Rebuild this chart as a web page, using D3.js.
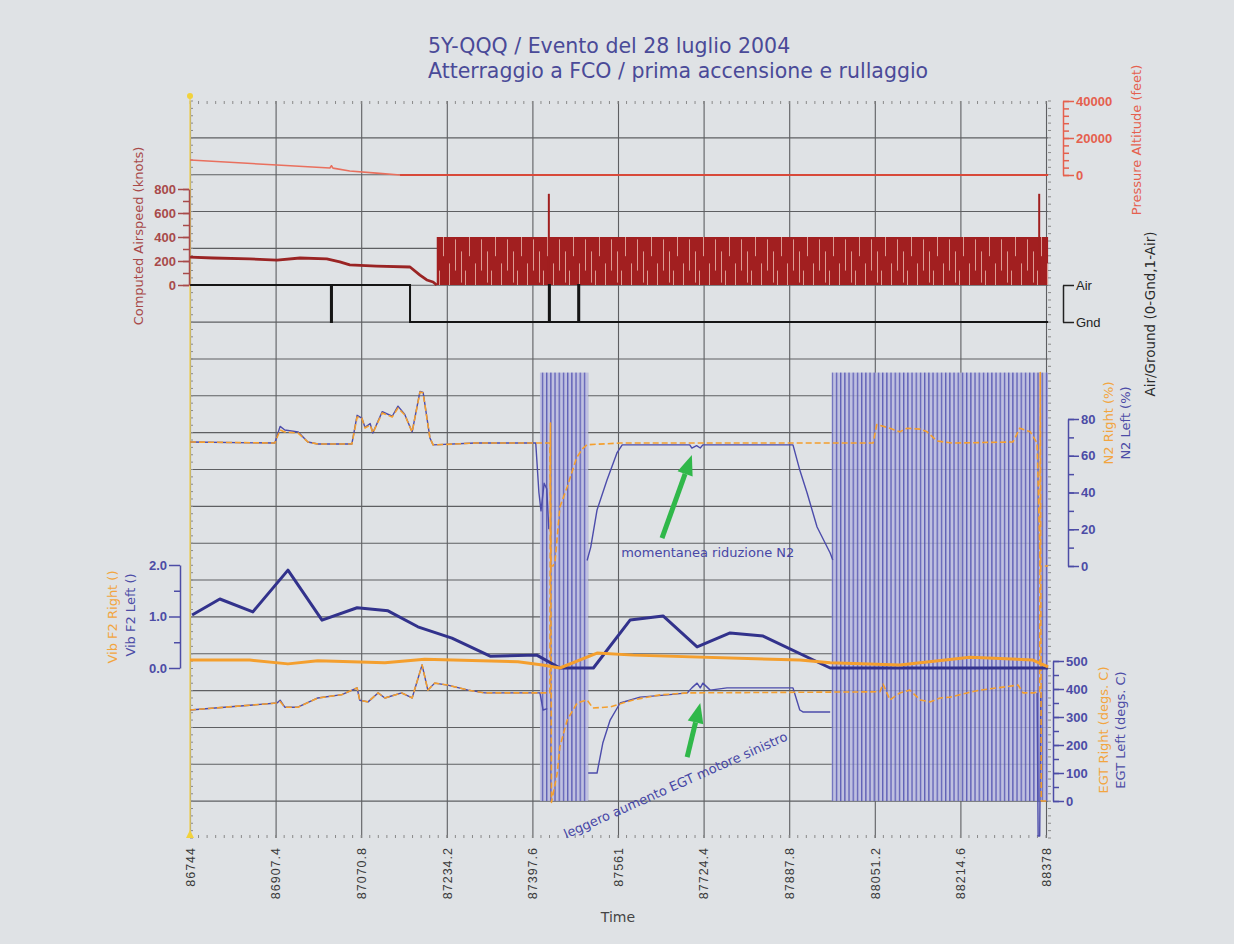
<!DOCTYPE html>
<html>
<head>
<meta charset="utf-8">
<script src="https://d3js.org/d3.v7.min.js"></script>
<style>
  html, body { margin: 0; padding: 0; background: #dfe2e5; }
  svg { display: block; font-family: "DejaVu Sans", Verdana, sans-serif; }
</style>
</head>
<body>
<svg id="chart" width="1234" height="944"></svg>
<script>
const titleLines = ['5Y-QQQ / Evento del 28 luglio 2004', 'Atterraggio a FCO / prima accensione e rullaggio'];

const timeTicks = [86744, 86907.4, 87070.8, 87234.2, 87397.6, 87561, 87724.4, 87887.8, 88051.2, 88214.6, 88378];
const timeLabels = ['86744', '86907.4', '87070.8', '87234.2', '87397.6', '87561', '87724.4', '87887.8', '88051.2', '88214.6', '88378'];

// [time, value]
const altitude = [[86744, 8100], [86910, 5400], [87011, 3780], [87014, 5000], [87017, 3700], [87049, 2160], [87100, 1000], [87145, 0], [88382, 0]];
const airspeed = [[86744, 233], [86788, 225], [86858, 217], [86910, 208], [86954, 225], [87005, 217], [87030, 192], [87049, 167], [87100, 158], [87164, 150], [87183, 83], [87196, 42], [87208, 25], [87215, 0]];
const airspeedNoise = [87215, 88382, 0, 400];
const airspeedSpikes = [[87429, 760], [88365, 760]];
const airGround = [[86744, 1], [87013, 0], [87015, 1], [87164, 0], [87429, 1], [87431, 0], [87485, 1], [87487, 0], [88382, 0]];

const n2Right = [[86744, 67.5], [86906, 66.9], [86916, 74], [86925, 72.9], [86950, 72.4], [86969, 67.5], [86988, 66.4], [87053, 66.4], [87063, 81.1], [87072, 80.5], [87078, 75.1], [87088, 76.7], [87093, 72.4], [87111, 83.3], [87130, 81.1], [87141, 86], [87154, 82.2], [87168, 72.9], [87183, 94.7], [87189, 94.1], [87202, 69.7], [87208, 65.9], [87288, 66.9], [87431, 66.9], [87433, 0], [87437, 0], [87441, 3], [87450, 32], [87464, 43], [87482, 59], [87494, 64], [87502, 66], [87565, 66.9], [88048, 66.9], [88055, 77], [88080, 75], [88099, 73], [88113, 75], [88138, 74.5], [88151, 73], [88170, 68], [88200, 66.9], [88315, 67.5], [88328, 75], [88348, 73], [88361, 66.9], [88367, 0], [88382, 0]];
const n2Left = [[86744, 67.5], [86906, 66.9], [86916, 76], [86925, 74], [86950, 73], [86969, 67.5], [86988, 66.4], [87053, 66.4], [87063, 82], [87072, 80.5], [87078, 75.5], [87088, 77.5], [87093, 72.4], [87111, 84], [87130, 81.5], [87141, 87], [87154, 82.5], [87168, 72.9], [87183, 95], [87189, 94.5], [87202, 69.7], [87208, 65.9], [87288, 66.9], [87404, 66.9], [87410, 40], [87414, 30], [87420, 45], [87425, 42], [87429, 20], [87430, null], [87502, 3], [87509, 10.3], [87521, 30.5], [87540, 46.8], [87559, 61.5], [87569, 65.9], [87698, 65.9], [87702, 64.2], [87711, 65.5], [87718, 64.2], [87723, 65.9], [87895, 65.9], [87908, 52.2], [87922, 39.7], [87941, 21.2], [87966, 7.1], [87971, 3.3]];

const vibRight = [[86744, 0.155], [86858, 0.155], [86931, 0.08], [86988, 0.14], [87116, 0.1], [87192, 0.17], [87370, 0.12], [87417, 0.06], [87450, 0], [87521, 0.29], [87590, 0.25], [87908, 0.155], [87966, 0.1], [88099, 0.06], [88233, 0.21], [88353, 0.155], [88382, 0.02]];
const vibLeft = [[86748, 1.03], [86801, 1.34], [86864, 1.09], [86931, 1.9], [86996, 0.93], [87063, 1.17], [87122, 1.11], [87179, 0.8], [87244, 0.58], [87317, 0.23], [87406, 0.25], [87450, 0], [87514, 0], [87584, 0.93], [87647, 1.01], [87712, 0.41], [87775, 0.68], [87838, 0.62], [87966, 0], [88382, 0]];

const egtRight = [[86744, 325], [86910, 350], [86916, 355], [86925, 335], [86950, 335], [86988, 368], [87034, 380], [87063, 404], [87068, 360], [87084, 354], [87103, 386], [87116, 368], [87148, 386], [87168, 368], [87187, 486], [87198, 396], [87211, 421], [87236, 414], [87275, 396], [87307, 386], [87431, 386], [87432, 1350], [87434, -5], [87445, 100], [87450, 193], [87464, 289], [87483, 350], [87502, 361], [87513, 332], [87546, 336], [87590, 361], [87641, 379], [87693, 386], [88061, 390], [88067, 418], [88080, 361], [88099, 386], [88118, 396], [88138, 361], [88157, 354], [88176, 368], [88195, 371], [88227, 386], [88252, 396], [88285, 404], [88325, 414], [88334, 386], [88353, 386], [88366, 390], [88367, 1530], [88369, 0], [88382, 0]];
const egtLeft = [[86744, 325], [86910, 350], [86916, 360], [86925, 335], [86950, 335], [86988, 368], [87034, 380], [87063, 404], [87068, 360], [87084, 354], [87103, 386], [87116, 368], [87148, 386], [87168, 368], [87187, 486], [87198, 396], [87211, 421], [87236, 414], [87275, 396], [87307, 386], [87412, 386], [87418, 325], [87426, 330], [87430, null], [87504, 100], [87521, 100], [87532, 207], [87546, 289], [87565, 350], [87603, 371], [87655, 379], [87693, 386], [87702, 404], [87712, 421], [87718, 404], [87723, 421], [87737, 396], [87769, 404], [87781, 404], [87895, 404], [87908, 325], [87914, 318], [87966, 318], [87970, null], [88361, 386], [88363, -125], [88366, -125], [88368, 386]];

// EGT Left dropouts: [start, end, low, high]
const egtBursts = [[87412, 87504, 0, 1530], [87969, 88382, 0, 1530]];

const notes = [
  { text: 'momentanea riduzione N2', t: 87567, v: 5, axis: 'n2', angle: 0 },
  { text: 'leggero aumento EGT motore sinistro', t: 87462, v: -135, axis: 'egt', angle: -24 }
];
const arrows = [
  { from: [87645, 15.2], to: [87702, 60.4], axis: 'n2' },
  { from: [87693, 157], to: [87718, 350], axis: 'egt' }
];

class FlightChart {
  constructor(svg) {
    this.svg = d3.select(svg);
    this.colors = {
      grid: '#5e5f62', blue: '#32328c', blueThin: '#4c4cab', orange: '#f49f2e',
      red: '#a11f1f', alt: '#e9705e', green: '#30b84a', text: '#333'
    };
  }

  render() {
    this.calculateScale();
    this.renderPatterns();
    this.renderTitle();
    this.renderGrid();
    this.renderTopPanel();
    this.renderEnginePanels();
    this.renderNotes();
    this.renderAxes();
  }

  calculateScale() {
    this.left = 190; this.right = 1046; this.top = 101; this.bottom = 838;
    this.x = d3.scaleLinear().domain([86744, 88378]).range([this.left, this.right]);
    this.rows = d3.scaleLinear().domain([0, 20]).range([this.top, this.bottom]);
    this.altY = d3.scaleLinear().domain([0, 40000]).range([175, 101]);
    this.casY = d3.scaleLinear().domain([0, 800]).range([285, 189]);
    this.agY = d3.scaleLinear().domain([0, 1]).range([322, 285]);
    this.n2Y = d3.scaleLinear().domain([0, 80]).range([566, 419]);
    this.vibY = d3.scaleLinear().domain([0, 2]).range([668, 565]);
    this.egtY = d3.scaleLinear().domain([0, 500]).range([801, 661]);
  }

  renderPatterns() {
    const defs = this.svg.append('defs');
    const top = this.casY(airspeedNoise[3]);
    const h = this.casY(airspeedNoise[2]) - top;
    const w = 26;
    const cas = defs.append('pattern').attr('id', 'cas-noise')
      .attr('patternUnits', 'userSpaceOnUse')
      .attr('x', 0).attr('y', top).attr('width', w).attr('height', h);
    cas.append('rect').attr('width', w).attr('height', h).attr('fill', '#a21f20');
    [[1.5, 0, 0.4], [7.5, 0.55, 1], [13.5, 0.05, 0.7], [19.5, 0.3, 0.95], [23.5, 0.7, 1]].forEach(([px, a, b]) => {
      cas.append('line').attr('x1', px).attr('x2', px).attr('y1', a * h).attr('y2', b * h)
        .attr('stroke', '#dc9b92').attr('stroke-width', 1);
    });

    const burst = defs.append('pattern').attr('id', 'egt-burst')
      .attr('patternUnits', 'userSpaceOnUse')
      .attr('x', 0).attr('y', 0).attr('width', 4.2).attr('height', 944);
    burst.append('line').attr('x1', 0.7).attr('x2', 0.7).attr('y1', 0).attr('y2', 944)
      .attr('stroke', '#4a4aac').attr('stroke-width', 1.1);
  }

  renderTitle() {
    this.svg.append('g').selectAll('text').data(titleLines).join('text')
      .attr('x', 428).attr('y', (d, i) => 53 + i * 25)
      .attr('fill', '#4a4a98').attr('font-size', 20.5)
      .text(d => d);
  }

  renderGrid() {
    const g = this.svg.append('g').attr('class', 'grid');
    g.selectAll('.h').data(d3.range(1, 20)).join('line')
      .attr('x1', this.left).attr('x2', 1048)
      .attr('y1', d => this.rows(d)).attr('y2', d => this.rows(d))
      .attr('stroke', this.colors.grid).attr('stroke-width', 1.1);

    const xAxis = d3.axisBottom(this.x).tickValues(timeTicks)
      .tickSize(-(this.bottom - this.top)).tickFormat((d, i) => timeLabels[i]);
    const xg = g.append('g').attr('transform', `translate(0,${this.bottom})`).call(xAxis);
    xg.select('.domain').remove();
    xg.selectAll('line').attr('stroke', this.colors.grid).attr('stroke-width', 1.1);
    xg.selectAll('text')
      .attr('y', 0).attr('x', -9).attr('dy', '0.35em')
      .attr('transform', 'rotate(-90)').style('text-anchor', 'end')
      .attr('font-size', 12.5).attr('letter-spacing', 1).attr('fill', '#3a3a3a');

    // minor ticks round the frame
    const minor = d3.range(86744, 88380, 16.34);
    const frame = g.append('g').attr('stroke', '#8a8a8a');
    frame.selectAll('.t').data(minor).join('line')
      .attr('x1', d => this.x(d)).attr('x2', d => this.x(d))
      .attr('y1', this.top).attr('y2', this.top + 3);
    frame.selectAll('.b').data(minor).join('line')
      .attr('x1', d => this.x(d)).attr('x2', d => this.x(d))
      .attr('y1', this.bottom - 3).attr('y2', this.bottom);
    const rowMinor = d3.range(0, 20.01, 0.2);
    frame.selectAll('.r').data(rowMinor).join('line')
      .attr('x1', 1048).attr('x2', 1051)
      .attr('y1', d => this.rows(d)).attr('y2', d => this.rows(d));
    frame.selectAll('.l').data(rowMinor).join('line')
      .attr('x1', this.left).attr('x2', this.left + 3)
      .attr('y1', d => this.rows(d)).attr('y2', d => this.rows(d));

    g.append('line').attr('x1', this.left).attr('x2', this.left)
      .attr('y1', 96).attr('y2', this.bottom).attr('stroke', '#eed36a').attr('stroke-width', 1.5);
    g.append('circle').attr('cx', this.left).attr('cy', 96).attr('r', 3).attr('fill', '#f2d23c');
    g.append('path').attr('d', `M${this.left - 4},${this.bottom}L${this.left + 4},${this.bottom}L${this.left},${this.bottom - 8}Z`)
      .attr('fill', '#f2d23c');
  }

  line(y) {
    return d3.line().defined(d => d[1] !== null).x(d => this.x(d[0])).y(d => y(d[1]));
  }

  renderSeries(g, data, y, color, width, dash) {
    g.append('path').datum(data).attr('d', this.line(y))
      .attr('fill', 'none').attr('stroke', color).attr('stroke-width', width)
      .attr('stroke-linejoin', 'round').attr('stroke-dasharray', dash || null);
  }

  renderTopPanel() {
    const g = this.svg.append('g').attr('class', 'top-panel');
    this.renderSeries(g, altitude, this.altY, this.colors.alt, 1.6);
    g.append('path').datum(altitude.slice(-2)).attr('d', this.line(this.altY))
      .attr('stroke', '#d8493a').attr('stroke-width', 2.2).attr('fill', 'none');

    const [t0, t1, lo, hi] = airspeedNoise;
    g.append('rect').attr('x', this.x(t0)).attr('width', this.x(t1) - this.x(t0))
      .attr('y', this.casY(hi)).attr('height', this.casY(lo) - this.casY(hi))
      .attr('fill', 'url(#cas-noise)');
    this.renderSeries(g, airspeed, this.casY, '#9a2424', 2.8);
    g.selectAll('.spike').data(airspeedSpikes).join('line')
      .attr('x1', d => this.x(d[0])).attr('x2', d => this.x(d[0]))
      .attr('y1', this.casY(0)).attr('y2', d => this.casY(d[1]))
      .attr('stroke', this.colors.red).attr('stroke-width', 2);

    g.append('path').datum(airGround)
      .attr('d', d3.line().curve(d3.curveStepAfter).x(d => this.x(d[0])).y(d => this.agY(d[1])))
      .attr('fill', 'none').attr('stroke', '#151515').attr('stroke-width', 2);
  }

  renderEnginePanels() {
    const g = this.svg.append('g').attr('class', 'engine-panels');
    egtBursts.forEach(([t0, t1, lo, hi]) => {
      const x0 = this.x(t0), w = this.x(t1) - x0;
      const y0 = this.egtY(hi), h = this.egtY(lo) - y0;
      g.append('rect').attr('x', x0).attr('y', y0).attr('width', w).attr('height', h)
        .attr('fill', '#b6b8de').attr('opacity', 0.8);
      g.append('rect').attr('x', x0).attr('y', y0).attr('width', w).attr('height', h)
        .attr('fill', 'url(#egt-burst)');
    });

    this.renderSeries(g, n2Left, this.n2Y, this.colors.blueThin, 1.4);
    this.renderSeries(g, n2Right, this.n2Y, this.colors.orange, 1.6, '6,3');
    this.renderSeries(g, egtLeft, this.egtY, this.colors.blueThin, 1.4);
    this.renderSeries(g, egtRight, this.egtY, this.colors.orange, 1.6, '6,3');
    this.renderSeries(g, vibLeft, this.vibY, this.colors.blue, 3);
    this.renderSeries(g, vibRight, this.vibY, this.colors.orange, 3);
  }

  renderNotes() {
    const g = this.svg.append('g').attr('class', 'notes');
    const scaleFor = a => (a === 'n2' ? this.n2Y : this.egtY);
    notes.forEach(n => {
      const px = this.x(n.t), py = scaleFor(n.axis)(n.v);
      g.append('text').attr('transform', `translate(${px},${py}) rotate(${n.angle})`)
        .attr('fill', '#4747a6').attr('font-size', 13).text(n.text);
    });
    arrows.forEach(a => {
      const y = scaleFor(a.axis);
      const x1 = this.x(a.from[0]), y1 = y(a.from[1]);
      const x2 = this.x(a.to[0]), y2 = y(a.to[1]);
      const ang = Math.atan2(y2 - y1, x2 - x1);
      const len = 20, half = 8;
      const bx = x2 - len * Math.cos(ang), by = y2 - len * Math.sin(ang);
      g.append('line').attr('x1', x1).attr('y1', y1).attr('x2', bx).attr('y2', by)
        .attr('stroke', this.colors.green).attr('stroke-width', 5);
      const nx = -Math.sin(ang) * half, ny = Math.cos(ang) * half;
      g.append('path').attr('d', `M${x2},${y2}L${bx + nx},${by + ny}L${bx - nx},${by - ny}Z`)
        .attr('fill', this.colors.green);
    });
  }

  styleAxis(sel, color, size) {
    sel.selectAll('line, path').attr('stroke', color).attr('stroke-width', 1.5);
    sel.selectAll('text').attr('fill', color).attr('font-size', size || 13)
      .attr('font-weight', 'bold');
  }

  renderAxis(scale, side, xPos, majors, minors, color, fmt) {
    const make = side === 'left' ? d3.axisLeft : d3.axisRight;
    const g = this.svg.append('g').attr('transform', `translate(${xPos},0)`);
    g.append('g').call(make(scale).tickValues(minors).tickSize(6).tickSizeOuter(0).tickFormat(''))
      .call(s => s.select('.domain').remove())
      .call(s => this.styleAxis(s, color));
    const main = g.append('g').call(make(scale).tickValues(majors).tickSize(11).tickSizeOuter(0)
      .tickPadding(2).tickFormat(fmt || d3.format('d')));
    this.styleAxis(main, color);
    return main;
  }

  axisTitle(text, x, y, color, size) {
    this.svg.append('text').attr('transform', `translate(${x},${y}) rotate(-90)`)
      .attr('text-anchor', 'middle').attr('fill', color).attr('font-size', size || 13)
      .text(text);
  }

  renderAxes() {
    const altC = '#e5604e', casC = '#a84a4a', blueC = '#4c4ca6', orC = '#f2a540';
    this.renderAxis(this.altY, 'right', 1063, [0, 20000, 40000], d3.range(0, 40001, 4000), altC);
    this.renderAxis(this.casY, 'left', 189, [0, 200, 400, 600, 800], d3.range(0, 801, 100), casC);
    const ag = this.renderAxis(this.agY, 'right', 1063, [0, 1], [], '#222', d => (d ? 'Air' : 'Gnd'));
    ag.selectAll('text').attr('font-weight', 'normal');
    this.renderAxis(this.n2Y, 'right', 1068, [0, 20, 40, 60, 80], d3.range(0, 81, 10), blueC);
    this.renderAxis(this.vibY, 'left', 180, [0, 1, 2], [0.5, 1.5], blueC, d3.format('.1f'));
    this.renderAxis(this.egtY, 'right', 1053, d3.range(0, 501, 100), d3.range(0, 501, 50), blueC);

    this.axisTitle('Computed Airspeed (knots)', 143, 236, casC);
    this.axisTitle('Pressure Altitude (feet)', 1141, 140, altC);
    this.axisTitle('Air/Ground (0-Gnd,1-Air)', 1155, 314, '#2a2a2a', 13.5);
    this.axisTitle('N2 Right (%)', 1113, 423, orC);
    this.axisTitle('N2 Left (%)', 1130, 423, blueC);
    this.axisTitle('EGT Right (degs. C)', 1108, 730, orC);
    this.axisTitle('EGT Left (degs. C)', 1125, 730, blueC);
    this.axisTitle('Vib F2 Right ()', 117, 617, orC);
    this.axisTitle('Vib F2 Left ()', 135, 615, blueC);

    this.svg.append('text').attr('x', 618).attr('y', 922).attr('text-anchor', 'middle')
      .attr('fill', '#444').attr('font-size', 14).text('Time');
  }
}

new FlightChart('#chart').render();
</script>
</body>
</html>
